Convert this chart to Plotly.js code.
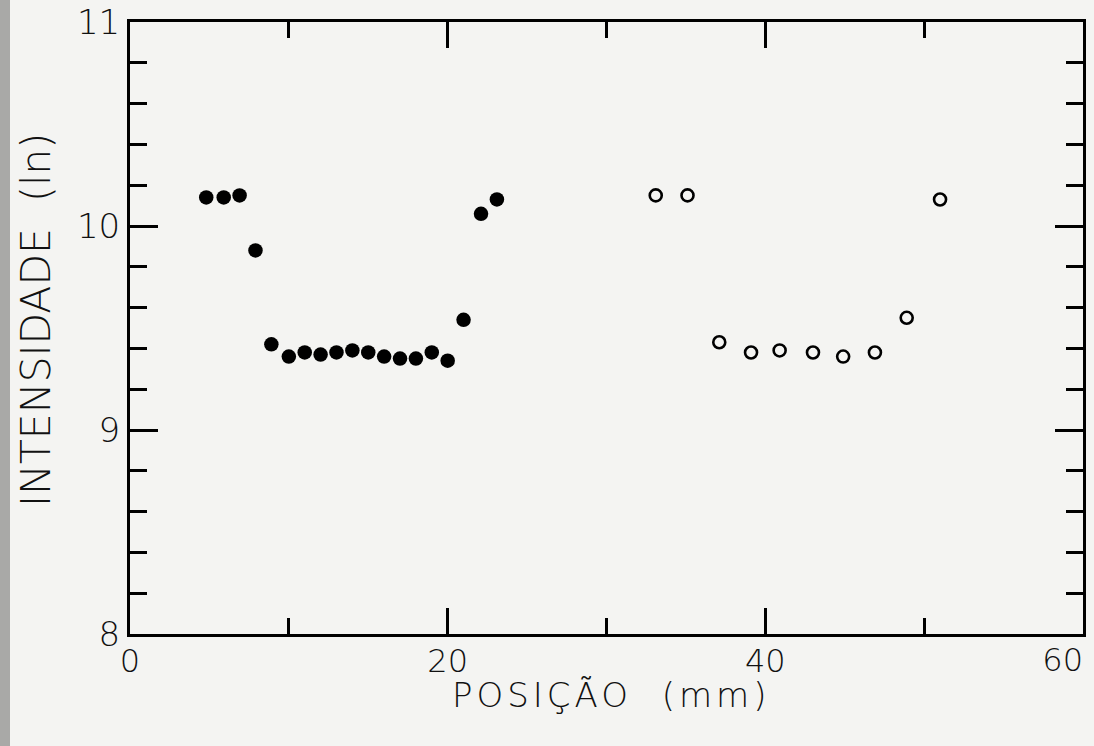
<!DOCTYPE html>
<html>
<head>
<meta charset="utf-8">
<script src="https://cdn.plot.ly/plotly-3.0.1.min.js"></script>
<style>
  html, body { margin: 0; padding: 0; background: #f4f4f2; }
  #chart { width: 1094px; height: 746px; }
  g.annotation[data-index="0"] text { letter-spacing: 4px; }
</style>
</head>
<body>
<div id="chart"></div>
<script>
// Filled circles (first series)
const filledX = [4.8, 5.9, 6.9, 7.9, 8.9, 10.0, 11.0, 12.0, 13.0, 14.0, 15.0, 16.0, 17.0, 18.0, 19.0, 20.0, 21.0, 22.1, 23.1];
const filledY = [10.14, 10.14, 10.15, 9.88, 9.42, 9.36, 9.38, 9.37, 9.38, 9.39, 9.38, 9.36, 9.35, 9.35, 9.38, 9.34, 9.54, 10.06, 10.13];
// Open circles (second series)
const openX = [33.1, 35.1, 37.1, 39.1, 40.9, 43.0, 44.9, 46.9, 48.9, 51.0];
const openY = [10.15, 10.15, 9.43, 9.38, 9.39, 9.38, 9.36, 9.38, 9.55, 10.13];

// Tick labels
const xTickVals = [0, 20, 40];
const xTickText = ['0', '20', '40'];
const xEndTickVals = [60];
const xEndTickText = ['60'];
const yTickVals = [8, 9, 10, 11];
const yTickText = ['8', '9', '10', '11'];

const xTitle = 'POSIÇÃO  (mm)';
const yTitle = 'INTENSIDADE  (ln)';

const FONT = 'DejaVu Sans, Liberation Sans, sans-serif';
const L = 130, R = 11, T = 22, B = 112;
const PW = 1094 - L - R, PH = 746 - T - B;

const traces = [
  {
    x: filledX, y: filledY, type: 'scatter', mode: 'markers',
    marker: { symbol: 'circle', size: 14.5, color: '#000000' },
    showlegend: false, hoverinfo: 'x+y'
  },
  {
    x: openX, y: openY, type: 'scatter', mode: 'markers',
    marker: { symbol: 'circle-open', size: 12, color: '#000000', line: { width: 2.6, color: '#000000' } },
    showlegend: false, hoverinfo: 'x+y'
  },
  // empty trace so that the overlaid end-label axis is drawn
  { x: [], y: [], type: 'scatter', mode: 'markers', xaxis: 'x2', yaxis: 'y', showlegend: false, hoverinfo: 'skip' }
];

const layout = {
  width: 1094, height: 746,
  paper_bgcolor: '#f4f4f2',
  plot_bgcolor: '#f4f4f2',
  margin: { l: L, r: R, t: T, b: B },
  showlegend: false,
  xaxis: {
    range: [0, 60],
    tickmode: 'array', tickvals: xTickVals, ticktext: xTickText,
    ticks: 'inside', ticklen: 26, tickwidth: 3, tickcolor: '#000',
    minor: { tickmode: 'array', tickvals: [10, 30, 50], ticks: 'inside', ticklen: 16, tickwidth: 3, tickcolor: '#000' },
    showline: true, linewidth: 3, linecolor: '#000', mirror: 'ticks',
    showgrid: false, zeroline: false,
    ticklabelstandoff: -3,
    tickfont: { family: FONT, size: 32, color: '#111', weight: 200 }
  },
  xaxis2: {
    overlaying: 'x', anchor: 'y', side: 'bottom',
    range: [0, 60],
    tickmode: 'array', tickvals: xEndTickVals, ticktext: xEndTickText,
    ticks: '', showline: false, showgrid: false, zeroline: false,
    ticklabelposition: 'outside left',
    ticklabelstandoff: 4,
    tickfont: { family: FONT, size: 32, color: '#111', weight: 200 }
  },
  yaxis: {
    range: [8, 11],
    tickmode: 'array', tickvals: yTickVals, ticktext: yTickText,
    ticks: 'inside', ticklen: 28, tickwidth: 3, tickcolor: '#000',
    minor: { dtick: 0.2, tick0: 8, ticks: 'inside', ticklen: 17, tickwidth: 3, tickcolor: '#000' },
    showline: true, linewidth: 3, linecolor: '#000', mirror: 'ticks',
    showgrid: false, zeroline: false,
    tickfont: { family: FONT, size: 34, color: '#111', weight: 200 }
  },
  annotations: [
    { text: xTitle, xref: 'paper', yref: 'paper', x: (611 - L) / PW, y: -(695 - (T + PH)) / PH,
      xanchor: 'center', yanchor: 'middle', showarrow: false,
      font: { family: FONT, size: 34, color: '#111', weight: 200 } },
    { text: yTitle, xref: 'paper', yref: 'paper', x: (36 - L) / PW, y: ((T + PH) - 320) / PH,
      xanchor: 'center', yanchor: 'middle', showarrow: false, textangle: -90,
      font: { family: FONT, size: 41, color: '#111', weight: 200 } }
  ],
  shapes: [
    { type: 'rect', xref: 'paper', yref: 'paper',
      x0: -L / PW, x1: -(L - 10) / PW, y0: -B / PH, y1: 1 + T / PH,
      fillcolor: '#a9a9a7', line: { width: 0 }, layer: 'below' }
  ]
};

Plotly.newPlot('chart', traces, layout, { displayModeBar: false, staticPlot: true });
</script>
</body>
</html>
